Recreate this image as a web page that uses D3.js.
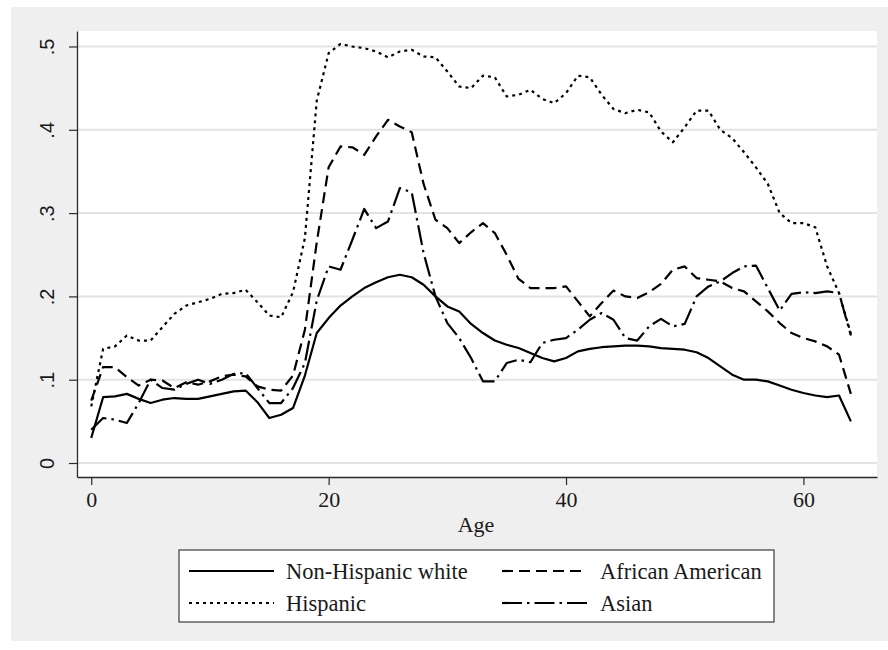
<!DOCTYPE html>
<html>
<head>
<meta charset="utf-8">
<script src="https://cdn.jsdelivr.net/npm/d3@7"></script>
<style>
  html, body { margin: 0; padding: 0; background: #ffffff; }
  svg { display: block; }
</style>
</head>
<body>
<svg id="chart" width="888" height="650"></svg>
<script>
// Share of each group by single year of age
const ages = [0,1,2,3,4,5,6,7,8,9,10,11,12,13,14,15,16,17,18,19,20,21,22,23,24,25,26,27,28,29,30,31,32,33,34,35,36,37,38,39,40,41,42,43,44,45,46,47,48,49,50,51,52,53,54,55,56,57,58,59,60,61,62,63,64];

const nonHispanicWhite = [0.030,0.079,0.080,0.083,0.077,0.072,0.076,0.078,0.077,0.077,0.080,0.083,0.086,0.087,0.073,0.054,0.058,0.066,0.105,0.156,0.174,0.189,0.200,0.210,0.217,0.223,0.226,0.223,0.214,0.200,0.188,0.182,0.167,0.156,0.147,0.142,0.138,0.132,0.126,0.122,0.126,0.134,0.137,0.139,0.140,0.141,0.141,0.140,0.138,0.137,0.136,0.133,0.126,0.116,0.106,0.100,0.100,0.098,0.093,0.088,0.084,0.081,0.079,0.081,0.050];

const africanAmerican = [0.075,0.115,0.115,0.103,0.093,0.100,0.099,0.090,0.097,0.094,0.098,0.104,0.106,0.104,0.092,0.088,0.087,0.105,0.160,0.265,0.355,0.380,0.379,0.370,0.392,0.412,0.404,0.397,0.335,0.292,0.282,0.264,0.277,0.288,0.276,0.250,0.221,0.210,0.210,0.210,0.212,0.194,0.176,0.192,0.207,0.200,0.198,0.205,0.215,0.232,0.236,0.222,0.220,0.218,0.210,0.206,0.194,0.182,0.168,0.156,0.150,0.146,0.140,0.130,0.083];

const hispanic = [0.068,0.137,0.140,0.153,0.147,0.147,0.163,0.179,0.189,0.193,0.197,0.203,0.204,0.208,0.193,0.177,0.175,0.205,0.270,0.435,0.492,0.503,0.500,0.498,0.494,0.487,0.494,0.496,0.488,0.487,0.470,0.452,0.450,0.465,0.463,0.440,0.442,0.448,0.437,0.432,0.444,0.465,0.463,0.442,0.425,0.420,0.424,0.421,0.398,0.385,0.403,0.423,0.423,0.400,0.390,0.373,0.355,0.335,0.300,0.288,0.288,0.283,0.236,0.204,0.155];

const asian = [0.040,0.054,0.052,0.048,0.072,0.100,0.090,0.088,0.095,0.100,0.095,0.100,0.107,0.108,0.090,0.072,0.072,0.090,0.120,0.195,0.236,0.232,0.268,0.305,0.282,0.290,0.330,0.325,0.252,0.200,0.168,0.150,0.126,0.098,0.098,0.120,0.124,0.121,0.144,0.148,0.150,0.160,0.172,0.180,0.172,0.150,0.147,0.164,0.173,0.164,0.167,0.200,0.212,0.218,0.228,0.236,0.237,0.210,0.183,0.203,0.205,0.204,0.206,0.204,0.153];

const yTicks = [0, 0.1, 0.2, 0.3, 0.4, 0.5];
const yTickLabels = ["0", ".1", ".2", ".3", ".4", ".5"];
const xTicks = [0, 20, 40, 60];
const xTitle = "Age";

const series = [
  { name: "Non-Hispanic white", values: nonHispanicWhite, dash: null },
  { name: "African American",   values: africanAmerican,  dash: "11,6" },
  { name: "Hispanic",           values: hispanic,         dash: "3,4" },
  { name: "Asian",              values: asian,            dash: "20,5,2.5,5" }
];

const svg = d3.select("#chart");
const plot = { left: 77, right: 877, top: 31, bottom: 477 };

// Graph region background
svg.append("rect")
  .attr("x", 11).attr("y", 7)
  .attr("width", 877).attr("height", 634)
  .attr("fill", "#efefef");

// Plot region
svg.append("rect")
  .attr("x", plot.left).attr("y", plot.top)
  .attr("width", plot.right - plot.left).attr("height", plot.bottom - plot.top)
  .attr("fill", "#ffffff");

const x = d3.scaleLinear().domain([-1.2, 66.2]).range([plot.left, plot.right]);
const y = d3.scaleLinear().domain([-0.0168, 0.5186]).range([plot.bottom, plot.top]);

// Horizontal grid lines
svg.append("g").selectAll("line")
  .data(yTicks)
  .join("line")
  .attr("x1", plot.left + 1).attr("x2", plot.right)
  .attr("y1", d => y(d)).attr("y2", d => y(d))
  .attr("stroke", "#e3e3e3")
  .attr("stroke-width", 2);

// Y axis
const yAxis = svg.append("g")
  .attr("transform", `translate(${plot.left},0)`)
  .call(d3.axisLeft(y).tickValues(yTicks)
    .tickFormat((d, i) => yTickLabels[i])
    .tickSize(8).tickSizeOuter(0));
yAxis.select(".domain").attr("stroke", "#2b2b2b").attr("stroke-width", 1.3);
yAxis.selectAll(".tick line").attr("stroke", "#2b2b2b").attr("stroke-width", 1.2);
yAxis.selectAll(".tick text")
  .attr("transform", "rotate(-90)")
  .attr("x", 0).attr("y", -23).attr("dy", 0)
  .attr("text-anchor", "middle")
  .attr("font-family", "'Liberation Sans', Arial, sans-serif")
  .attr("font-size", 20)
  .attr("fill", "#1a1a1a");

// X axis
const xAxis = svg.append("g")
  .attr("transform", `translate(0,${plot.bottom})`)
  .call(d3.axisBottom(x).tickValues(xTicks)
    .tickFormat(d3.format("d"))
    .tickSize(8).tickSizeOuter(0));
xAxis.select(".domain").attr("stroke", "#2b2b2b").attr("stroke-width", 1.3);
xAxis.selectAll(".tick line").attr("stroke", "#2b2b2b").attr("stroke-width", 1.2);
xAxis.selectAll(".tick text")
  .attr("y", 30).attr("dy", 0)
  .attr("font-family", "'Liberation Serif', 'Times New Roman', serif")
  .attr("font-size", 22)
  .attr("fill", "#1a1a1a");

svg.append("text")
  .attr("x", (x(0) + x(64)) / 2 + 5).attr("y", 532)
  .attr("text-anchor", "middle")
  .attr("font-family", "'Liberation Serif', 'Times New Roman', serif")
  .attr("font-size", 22)
  .attr("fill", "#1a1a1a")
  .text(xTitle);

// Series lines
const line = d3.line()
  .x((d, i) => x(ages[i]))
  .y(d => y(d));

svg.append("g").selectAll("path")
  .data(series)
  .join("path")
  .attr("d", d => line(d.values))
  .attr("fill", "none")
  .attr("stroke", "#000000")
  .attr("stroke-width", 2.2)
  .attr("stroke-linejoin", "round")
  .attr("stroke-dasharray", d => d.dash);

// Legend
const legend = svg.append("g");
legend.append("rect")
  .attr("x", 179).attr("y", 550)
  .attr("width", 595).attr("height", 72)
  .attr("fill", "#ffffff")
  .attr("stroke", "#3a3a3a")
  .attr("stroke-width", 1.2);

const legendSlots = [
  { s: series[0], lx: 189, tx: 286, cy: 571 },
  { s: series[1], lx: 502, tx: 600, cy: 571 },
  { s: series[2], lx: 189, tx: 286, cy: 603 },
  { s: series[3], lx: 502, tx: 600, cy: 603 }
];

legendSlots.forEach(slot => {
  legend.append("line")
    .attr("x1", slot.lx).attr("x2", slot.lx + 85)
    .attr("y1", slot.cy).attr("y2", slot.cy)
    .attr("stroke", "#000000")
    .attr("stroke-width", 2.2)
    .attr("stroke-dasharray", slot.s.dash);
  legend.append("text")
    .attr("x", slot.tx).attr("y", slot.cy + 8)
    .attr("font-family", "'Liberation Serif', 'Times New Roman', serif")
    .attr("font-size", 22.5)
    .attr("fill", "#1a1a1a")
    .text(slot.s.name);
});
</script>
</body>
</html>
